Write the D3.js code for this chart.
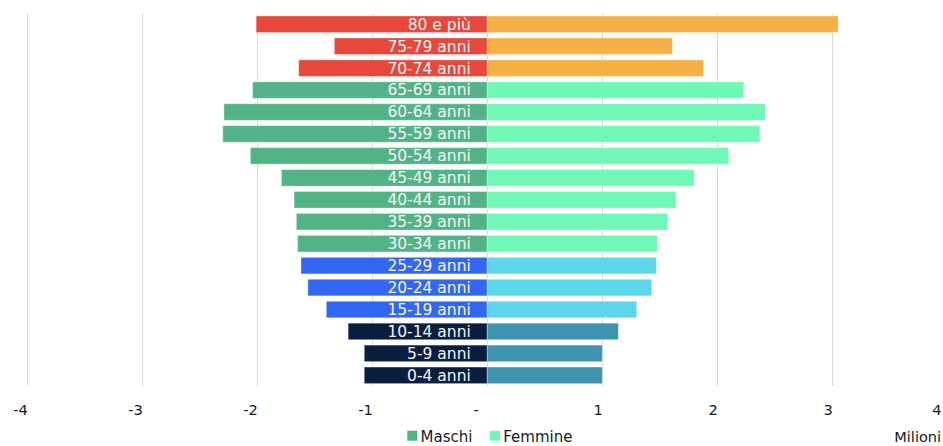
<!DOCTYPE html>
<html lang="it">
<head>
<meta charset="utf-8">
<script src="https://cdn.jsdelivr.net/npm/d3@7/dist/d3.min.js"></script>
<style>
  html, body { margin: 0; padding: 0; background: #fff; }
  svg { display: block; }
</style>
</head>
<body>
<svg id="chart" width="943" height="446"></svg>
<script>
// Popolazione residente per classe di età e sesso (milioni)
const classi = ["80 e più", "75-79 anni", "70-74 anni", "65-69 anni", "60-64 anni",
  "55-59 anni", "50-54 anni", "45-49 anni", "40-44 anni", "35-39 anni", "30-34 anni",
  "25-29 anni", "20-24 anni", "15-19 anni", "10-14 anni", "5-9 anni", "0-4 anni"];
const maschi = [-2.01, -1.33, -1.64, -2.04, -2.29, -2.30, -2.06, -1.79, -1.68, -1.66,
  -1.65, -1.62, -1.56, -1.40, -1.21, -1.07, -1.07];
const femmine = [3.05, 1.61, 1.88, 2.23, 2.42, 2.37, 2.10, 1.80, 1.64, 1.57, 1.48,
  1.47, 1.43, 1.30, 1.14, 1.00, 1.00];
const fasce = ["70+", "70+", "70+", "30-69", "30-69", "30-69", "30-69", "30-69", "30-69",
  "30-69", "30-69", "15-29", "15-29", "15-29", "0-14", "0-14", "0-14"];
const tickValori = [-4, -3, -2, -1, 0, 1, 2, 3, 4];
const serie = ["Maschi", "Femmine"];

// Palette per fascia di età: [maschi, femmine]
const colori = {
  "70+":   ["#E8473B", "#F5B144"],
  "30-69": ["#52B387", "#72F8B6"],
  "15-29": ["#3367F2", "#5BD6EB"],
  "0-14":  ["#0A1F40", "#3E94AE"]
};

const svg = d3.select("#chart");
const W = 943;
const yTop = 13.3, yBottom = 386.3;

const x = d3.scaleLinear().domain([-4, 4]).range([27.3, 947.3]);
const y = d3.scaleBand().domain(classi).range([yTop, yBottom])
  .paddingInner(0.245).paddingOuter(0.1225);

// Griglia verticale
svg.append("g").selectAll("line").data(tickValori).join("line")
  .attr("x1", d => Math.round(x(d)) + 0.5).attr("x2", d => Math.round(x(d)) + 0.5)
  .attr("y1", yTop).attr("y2", yBottom)
  .attr("stroke", "#d9d9d9").attr("stroke-width", 1);

const righe = classi.map((c, i) => ({ c, m: maschi[i], f: femmine[i], g: fasce[i] }));

const barre = svg.append("g");
barre.selectAll("rect.m").data(righe).join("rect").attr("class", "m")
  .attr("x", d => x(d.m)).attr("width", d => x(0) - x(d.m))
  .attr("y", d => y(d.c)).attr("height", y.bandwidth())
  .attr("fill", d => colori[d.g][0])
  .attr("stroke", "#fff").attr("stroke-opacity", 0.35).attr("stroke-width", 1);
barre.selectAll("rect.f").data(righe).join("rect").attr("class", "f")
  .attr("x", x(0)).attr("width", d => x(d.f) - x(0))
  .attr("y", d => y(d.c)).attr("height", y.bandwidth())
  .attr("fill", d => colori[d.g][1])
  .attr("stroke", "#fff").attr("stroke-opacity", 0.35).attr("stroke-width", 1);

// Etichette delle classi di età
svg.append("g").selectAll("text").data(righe).join("text")
  .attr("x", x(0) - 16.5)
  .attr("y", d => y(d.c) + y.bandwidth() / 2 + 5.4)
  .attr("text-anchor", "end")
  .attr("font-family", "DejaVu Sans, Verdana, sans-serif")
  .attr("font-size", 15.5)
  .attr("fill", "#f6f6f6")
  .text(d => d.c);

// Asse x (etichette in formato contabile: lo zero è un trattino)
const asse = d3.axisBottom(x).tickValues(tickValori).tickSize(0)
  .tickFormat(d => d === 0 ? "-" : d3.format("d")(d).replace("−", "-"));
const gA = svg.append("g").attr("transform", `translate(0,${yBottom})`).call(asse);
gA.select(".domain").remove();
gA.selectAll(".tick text")
  .attr("font-family", "DejaVu Sans, Verdana, sans-serif")
  .attr("font-size", 14.7)
  .attr("fill", "#1a1a1a")
  .attr("text-anchor", "end")
  .attr("y", 0).attr("dy", 0)
  .attr("transform", d => {
    const px = x(d);
    const shift = d === 0 ? -9 : (px > W - 2 ? (W - 2) - px : 0);
    return `translate(${shift},28.9)`;
  });

// Legenda
const leg = svg.append("g").attr("transform", "translate(407.3,430.7)");
const voci = leg.selectAll("g").data(serie).join("g")
  .attr("transform", (d, i) => `translate(${i === 0 ? 0 : 82.7},0)`);
voci.append("rect").attr("width", 10).attr("height", 10)
  .attr("fill", (d, i) => colori["30-69"][i]);
voci.append("text").attr("x", 13.3).attr("y", 10.9)
  .attr("font-family", "DejaVu Sans, Verdana, sans-serif")
  .attr("font-size", 15).attr("fill", "#1a1a1a")
  .text(d => d);

// Unità di misura
svg.append("text").attr("x", 941).attr("y", 441.6).attr("text-anchor", "end")
  .attr("font-family", "DejaVu Sans, Verdana, sans-serif")
  .attr("font-size", 14.5).attr("fill", "#1a1a1a")
  .text("Milioni");
</script>
</body>
</html>
